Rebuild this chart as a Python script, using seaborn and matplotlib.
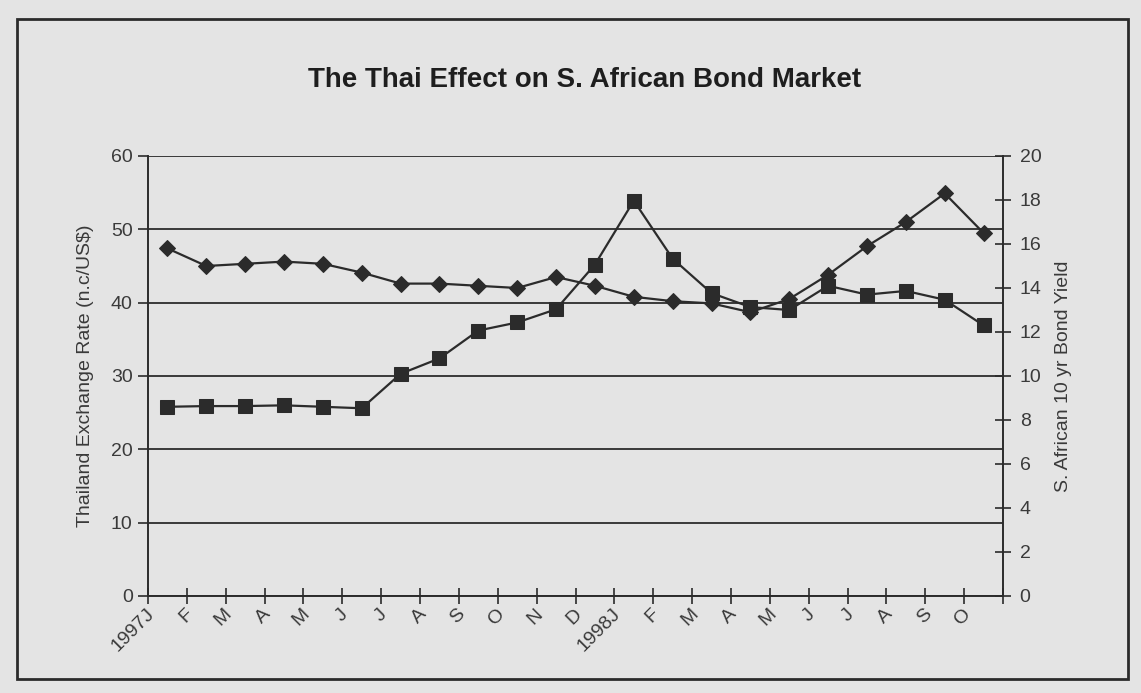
import matplotlib
matplotlib.use("Agg")
import matplotlib.pyplot as plt
from matplotlib.patches import Rectangle
from matplotlib.ticker import FixedLocator, MultipleLocator
from matplotlib.transforms import ScaledTranslation
import numpy as np
import pandas as pd
import seaborn as sns

# Monthly observations, January 1997 to October 1998
months = ["1997J", "F", "M", "A", "M", "J", "J", "A", "S", "O", "N", "D",
          "1998J", "F", "M", "A", "M", "J", "J", "A", "S", "O"]
thai_rate = [25.8, 25.9, 25.9, 26.0, 25.8, 25.6, 30.3, 32.4, 36.2, 37.3, 39.1,
             45.2, 53.9, 46.0, 41.3, 39.4, 39.0, 42.3, 41.1, 41.6, 40.4, 36.9]
sa_yield = [15.8, 15.0, 15.1, 15.2, 15.1, 14.7, 14.2, 14.2, 14.1, 14.0, 14.5,
            14.1, 13.6, 13.4, 13.3, 12.9, 13.5, 14.6, 15.9, 17.0, 18.3, 16.5]

title = "The Thai Effect on S. African Bond Market"
left_label = "Thailand Exchange Rate (n.c/US$)"
right_label = "S. African 10 yr Bond Yield"

df = pd.DataFrame({"pos": np.arange(len(months)),
                   "month": months,
                   "thai": thai_rate,
                   "yield": sa_yield})

sns.set_theme(style="white")
plt.rcParams["font.family"] = ["Liberation Sans", "DejaVu Sans"]

bg = "#e4e4e4"
ink = "#2b2b2b"
text_c = "#3a3a3a"

fig = plt.figure(figsize=(11.41, 6.93), dpi=100, facecolor=bg)
ax = fig.add_axes([148 / 1141, 1 - 596 / 693, 855 / 1141, 440 / 693])
ax.set_facecolor(bg)

# Exchange rate on the left axis, square markers
sns.lineplot(data=df, x="pos", y="thai", ax=ax, color=ink, linewidth=1.6,
             marker="s", markersize=10, markeredgecolor=ink,
             markerfacecolor=ink, zorder=3)

ax2 = ax.twinx()
# Bond yield on the right axis, diamond markers
sns.lineplot(data=df, x="pos", y="yield", ax=ax2, color=ink, linewidth=1.6,
             marker="D", markersize=8, markeredgecolor=ink,
             markerfacecolor=ink, zorder=3)

ax.set_xlim(-0.5, len(months) - 0.5)
ax.set_ylim(0, 60)
ax2.set_ylim(0, 20)

ax.yaxis.set_major_locator(MultipleLocator(10))
ax2.yaxis.set_major_locator(MultipleLocator(2))
ax.grid(axis="y", color=ink, linewidth=1.3)
ax.grid(axis="x", visible=False)
ax2.grid(False)

for a in (ax, ax2):
    for s in a.spines.values():
        s.set_visible(False)
ax.spines["left"].set_visible(True)
ax.spines["bottom"].set_visible(True)
ax2.spines["right"].set_visible(True)
for s in (ax.spines["left"], ax.spines["bottom"], ax2.spines["right"]):
    s.set_color(ink)
    s.set_linewidth(1.4)

# Category boundaries carry the x ticks; labels hang below each category
ax.xaxis.set_major_locator(FixedLocator(np.arange(-0.5, len(months), 1.0)))
ax.set_xticklabels([])
ax.xaxis.set_minor_locator(FixedLocator(df["pos"].values))
ax.tick_params(axis="x", which="major", direction="inout", length=12,
               width=1.2, color=ink, bottom=True)
ax.tick_params(axis="x", which="minor", length=0, pad=7)
ax.set_xticklabels(months, minor=True, rotation=45, ha="right", va="top",
                   rotation_mode="anchor", fontsize=14, color=text_c)

ax.tick_params(axis="y", which="major", direction="out", length=7, width=1.2,
               color=ink, left=True, labelsize=14, labelcolor=text_c, pad=4)
ax2.tick_params(axis="y", which="major", direction="inout", length=12,
                width=1.2, color=ink, right=True, labelsize=14,
                labelcolor=text_c, pad=6)

# Nudge the slanted month labels left so they end just before each category
shift = ScaledTranslation(-0.22, 0, fig.dpi_scale_trans)
for lab in ax.get_xticklabels(minor=True):
    lab.set_transform(lab.get_transform() + shift)

ax.set_xlabel("")
ax.set_ylabel(left_label, fontsize=14, color=text_c, labelpad=12)
ax2.set_ylabel(right_label, fontsize=14, color=text_c, labelpad=10)

fig.text(585 / 1141, 1 - 80 / 693, title, ha="center", va="center",
         fontsize=20, fontweight="bold", color="#1e1e1e")

# Outer chart frame
fig.patches.append(Rectangle((17 / 1141, 1 - 679 / 693), 1111 / 1141,
                             660 / 693, transform=fig.transFigure,
                             fill=False, edgecolor=ink, linewidth=2))

fig.savefig("out.png", dpi=100, facecolor=bg)
